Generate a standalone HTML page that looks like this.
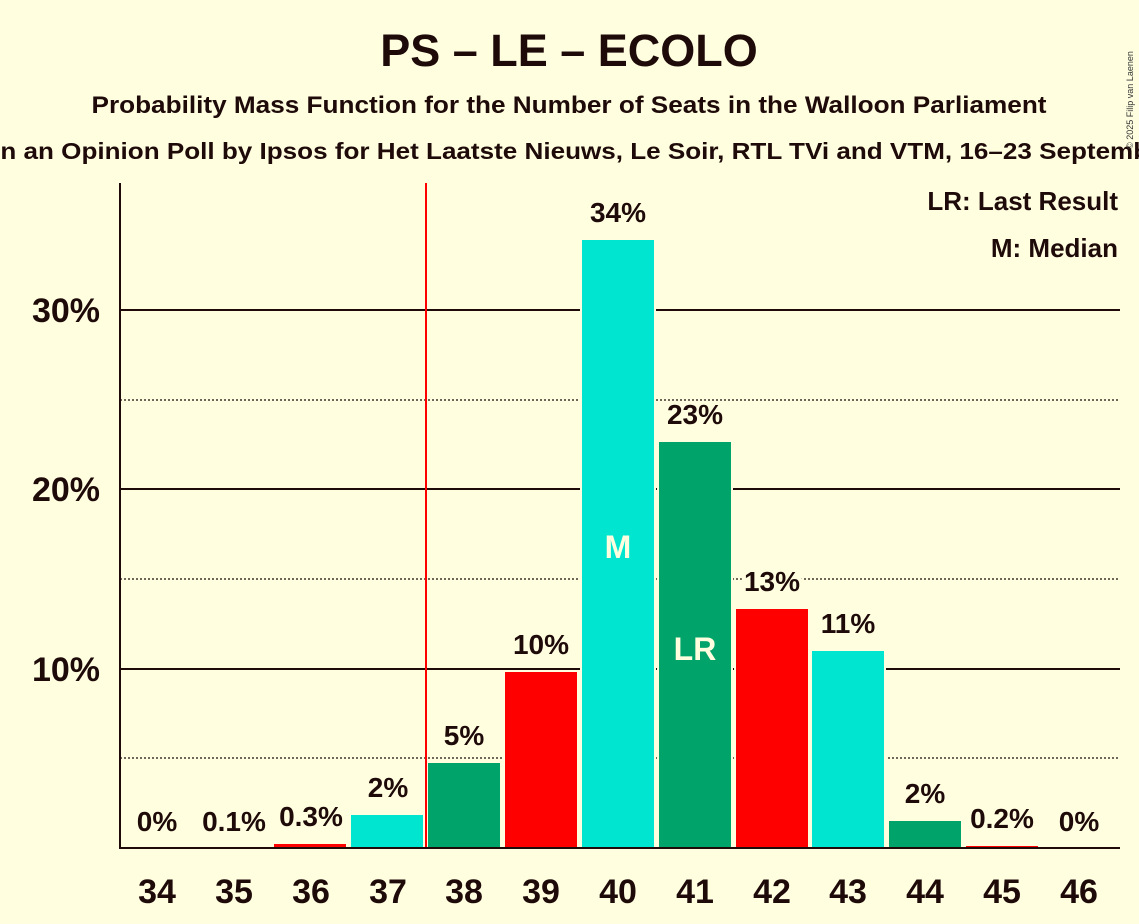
<!DOCTYPE html>
<html><head><meta charset="utf-8"><style>
html,body{margin:0;padding:0;background:#ffffe0;overflow:hidden;}
svg{display:block;font-family:"Liberation Sans",sans-serif;}
</style></head><body>
<svg width="1139" height="924" viewBox="0 0 1139 924" xmlns="http://www.w3.org/2000/svg">
<rect width="1139" height="924" fill="#ffffe0"/>
<g fill="#1f0a0a" font-weight="bold" text-anchor="middle">
<text x="569" y="66" font-size="45">PS – LE – ECOLO</text>
<text x="569" y="113" font-size="24.5" textLength="955" lengthAdjust="spacingAndGlyphs">Probability Mass Function for the Number of Seats in the Walloon Parliament</text>
<text x="569" y="159" font-size="23" textLength="1340" lengthAdjust="spacingAndGlyphs">Based on an Opinion Poll by Ipsos for Het Laatste Nieuws, Le Soir, RTL TVi and VTM, 16–23 September 2024</text>
</g>
<text x="1133" y="100" font-size="9" fill="#333" transform="rotate(-90 1133 100)" text-anchor="middle">© 2025 Filip van Laenen</text>
<g stroke="#1f0a0a" stroke-width="1.3" stroke-dasharray="2,2">
<line x1="120" y1="758" x2="1120" y2="758"/><line x1="120" y1="579" x2="1120" y2="579"/><line x1="120" y1="400" x2="1120" y2="400"/>
</g>
<g stroke="#1f0a0a" stroke-width="2">
<line x1="120" y1="669" x2="1120" y2="669"/><line x1="120" y1="489" x2="1120" y2="489"/><line x1="120" y1="310" x2="1120" y2="310"/>
</g>
<g stroke="#ffffe0" stroke-width="2">
<rect x="273" y="843" width="74" height="5" fill="#ff0000"/>
<rect x="350" y="814" width="74" height="34" fill="#00e5d0"/>
<rect x="427" y="762" width="74" height="86" fill="#00a36a"/>
<rect x="504" y="671" width="74" height="177" fill="#ff0000"/>
<rect x="581" y="239" width="74" height="609" fill="#00e5d0"/>
<rect x="658" y="441" width="74" height="407" fill="#00a36a"/>
<rect x="735" y="608" width="74" height="240" fill="#ff0000"/>
<rect x="811" y="650" width="74" height="198" fill="#00e5d0"/>
<rect x="888" y="820" width="74" height="28" fill="#00a36a"/>
<rect x="965" y="845" width="74" height="3" fill="#ff0000"/>
</g>
<line x1="426" y1="183" x2="426" y2="848" stroke="#ff0000" stroke-width="2"/>
<line x1="120" y1="183" x2="120" y2="849" stroke="#1f0a0a" stroke-width="2"/>
<line x1="119" y1="848" x2="1120" y2="848" stroke="#1f0a0a" stroke-width="2"/>
<g font-size="28" fill="#1f0a0a" text-anchor="middle" font-weight="bold">
<g stroke="#ffffe0" stroke-width="8" paint-order="stroke">
<text x="157" y="831">0%</text><text x="234" y="831">0.1%</text><text x="311" y="826">0.3%</text>
<text x="388" y="797">2%</text><text x="464" y="745">5%</text><text x="541" y="654">10%</text>
<text x="618" y="222">34%</text><text x="695" y="424">23%</text><text x="772" y="591">13%</text>
<text x="848" y="633">11%</text><text x="925" y="803">2%</text><text x="1002" y="828">0.2%</text><text x="1079" y="831">0%</text>
</g>
<text x="618" y="558" font-size="32" fill="#ffffe0">M</text>
<text x="695" y="660" font-size="32" fill="#ffffe0">LR</text>
</g>
<g font-size="34" font-weight="bold" fill="#1f0a0a" text-anchor="end">
<text x="100" y="322">30%</text><text x="100" y="501">20%</text><text x="100" y="681">10%</text>
</g>
<g font-size="34" font-weight="bold" fill="#1f0a0a" text-anchor="middle">
<text x="157" y="903">34</text><text x="234" y="903">35</text><text x="311" y="903">36</text><text x="388" y="903">37</text>
<text x="464" y="903">38</text><text x="541" y="903">39</text><text x="618" y="903">40</text><text x="695" y="903">41</text>
<text x="772" y="903">42</text><text x="848" y="903">43</text><text x="925" y="903">44</text><text x="1002" y="903">45</text><text x="1079" y="903">46</text>
</g>
<g font-size="26" font-weight="bold" fill="#1f0a0a" text-anchor="end">
<text x="1118" y="210">LR: Last Result</text><text x="1118" y="257">M: Median</text>
</g>
</svg>
</body></html>
